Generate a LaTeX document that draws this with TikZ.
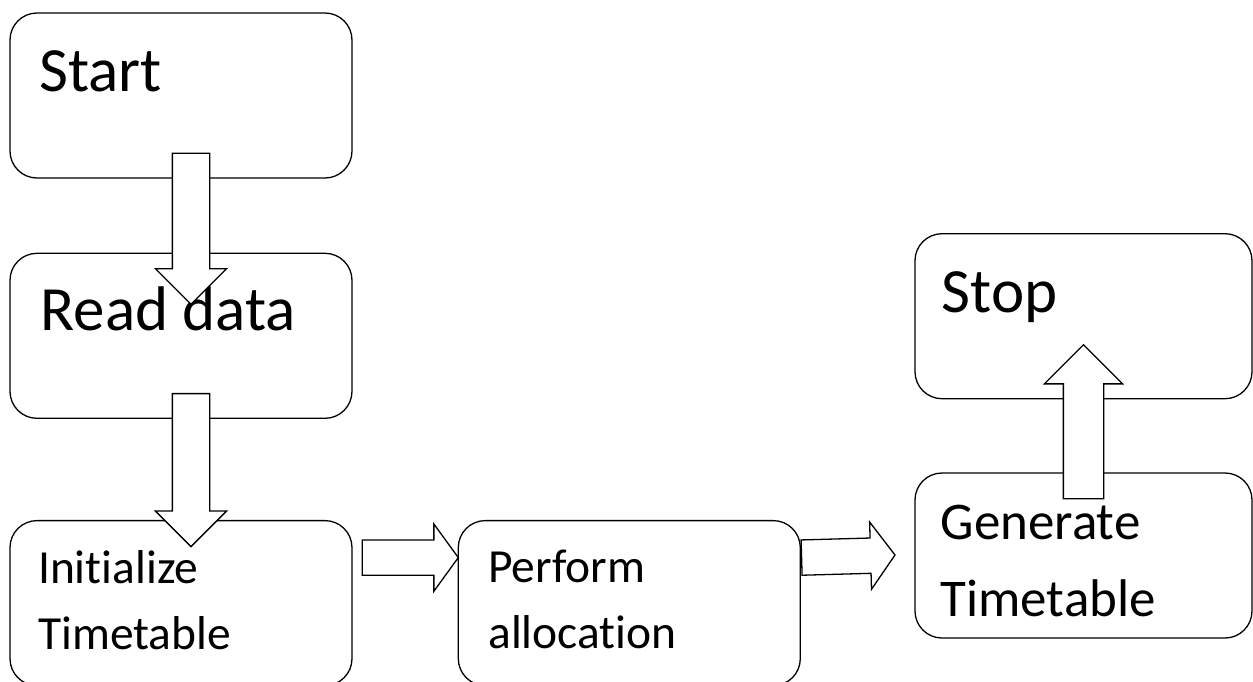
\documentclass[tikz,border=0pt]{standalone}
\usepackage{fontspec}
\setmainfont{Carlito}[Ligatures=NoCommon]
\usetikzlibrary{shapes.arrows,positioning,calc}

\tikzset{
  box/.style={rectangle, draw, line width=1.3pt, rounded corners=27pt, minimum width=342pt, minimum height=165pt, inner sep=0pt},
  big/.style={inner sep=0pt, anchor=base west, font=\fontsize{63}{75}\selectfont},
  mid/.style={inner sep=0pt, anchor=base west, align=left, font=\fontsize{47.5}{66.5}\selectfont},
  gen/.style={inner sep=0pt, anchor=base west, align=left, font=\fontsize{53}{77}\selectfont},
  fathead/.style={single arrow, draw, fill=white, line width=1.3pt, inner xsep=0pt},
  fat/.style={to path={let \p1=($(\tikztotarget)-(\tikztostart)$) in
      node[fathead, minimum height={veclen(\x1,\y1)}, rotate={atan2(\y1,\x1)}, anchor=tail] at (\tikztostart) {}}},
  wide/.style={inner ysep=18pt, minimum width=70pt, single arrow head extend=17pt, single arrow tip angle=90},
  thin/.style={inner ysep=17pt, minimum width=66pt, single arrow head extend=16pt, single arrow tip angle=108},
  upward/.style={inner ysep=19.5pt, minimum width=77pt, single arrow head extend=19pt, single arrow tip angle=90}
}

\begin{document}
\begin{tikzpicture}[x=1pt,y=-1pt]
\path[fill=white,use as bounding box] (0,0) rectangle (1253,681);

\node[box, label={[big, xshift=30pt, yshift=-79pt]north west:Start}] (start) at (181,95.5) {};
\node[box, below=74pt of start, label={[big, xshift=31pt, yshift=-78pt]north west:Read data}] (read) {};
\node[box, below=101pt of read, label={[mid, xshift=28.5pt, yshift=-130pt]north west:Initialize\\Timetable}] (init) {};
\node[box, right=105pt of init, label={[mid, xshift=30.5pt, yshift=-129pt]north west:Perform\\allocation}] (perform) {};
\node[box, minimum width=337pt, label={[gen, xshift=26pt, yshift=-144pt]north west:Generate\\Timetable}] (generate) at (1083.5,555.5) {};
\node[box, minimum width=337pt, above=73pt of generate, label={[big, xshift=27pt, yshift=-79pt]north west:Stop}] (stop) {};

% block arrows
\coordinate (a1s) at ($(start.south)+(10,-26)$);
\coordinate (a1e) at ($(read.north)+(10,51)$);
\coordinate (a2s) at ($(read.south)+(10,-26)$);
\coordinate (a2e) at ($(init.north)+(10,26)$);
\coordinate (a3s) at ($(init.east)+(9,-45.5)$);
\coordinate (a3e) at ($(perform.west)+(0,-45.5)$);
\coordinate (a4s) at ($(perform.east)+(0,-45.5)$);
\coordinate (a4e) at ($(generate.west)+(-20,-0.5)$);
\coordinate (a5s) at ($(generate.north)+(0,27)$);
\coordinate (a5e) at ($(stop.south)+(0,-54)$);

\path (a1s) to[fat,wide] (a1e);
\path (a2s) to[fat,wide] (a2e);
\path (a3s) to[fat,thin] (a3e);
\path (a4s) to[fat,thin] (a4e);
\path (a5s) to[fat,upward] (a5e);
\end{tikzpicture}
\end{document}
